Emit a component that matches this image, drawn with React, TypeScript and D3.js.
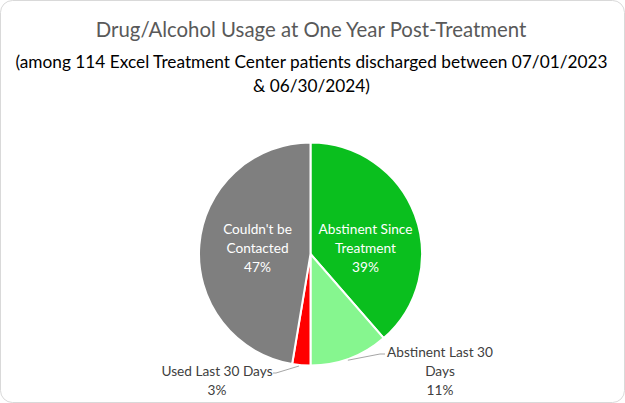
import React from "react";
import * as d3 from "d3";

const categories = ["Abstinent Since Treatment", "Abstinent Last 30 Days", "Used Last 30 Days", "Couldn't be Contacted"];
const counts = [44, 13, 3, 54];
const percentLabels = ["39%", "11%", "3%", "47%"];
const colors = ["#0abf1e", "#86f68f", "#ff0000", "#7f7f7f"];
const titleText = "Drug/Alcohol Usage at One Year Post-Treatment";
const subtitleLines = ["(among 114 Excel Treatment Center patients discharged between 07/01/2023", "& 06/30/2024)"];

const W = 625, H = 403;
const cx = 310.5, cy = 254, R = 111.5;
const FAMILY = "Lato";

function fitSize(text: string, target: number): number {
  if (typeof document === "undefined") return 14;
  const c = document.createElement("canvas").getContext("2d");
  if (!c) return 14;
  c.font = `100px ${FAMILY}`;
  const w = c.measureText(text).width;
  return (100 * target) / w;
}

export default function App() {
  const pie = d3.pie<number>().sort(null).value((d) => d)(counts);
  const arc = d3.arc<d3.PieArcDatum<number>>().innerRadius(0).outerRadius(R);
  const font = "Lato, 'Noto Sans', sans-serif";
  const mid = (p: d3.PieArcDatum<number>) => (p.startAngle + p.endAngle) / 2;
  const pt = (a: number, r: number) => [cx + r * Math.sin(a), cy - r * Math.cos(a)];

  const titleSize = fitSize(titleText, 432);
  const subSize = fitSize(subtitleLines[0], 593);
  const labSize = fitSize("Abstinent Last 30", 106);

  const e1 = pt(mid(pie[1]) + 0.02, R * 1.01);
  const e2 = pt(mid(pie[2]) + 0.02, R * 1.01);

  return (
    <svg width={W} height={H} style={{ position: "absolute", left: 0, top: 0 }}>
      <rect x={0.5} y={0.5} width={W - 1} height={H - 1} rx={12} fill="#fff" stroke="#d9d9d9" />
      <text x={311} y={37} textAnchor="middle" fontFamily={font} fontSize={titleSize} fill="#595959">
        {titleText}
      </text>
      <text x={311.5} y={68} textAnchor="middle" fontFamily={font} fontSize={subSize} fill="#000">
        {subtitleLines[0]}
      </text>
      <text x={311.5} y={92} textAnchor="middle" fontFamily={font} fontSize={subSize} fill="#000">
        {subtitleLines[1]}
      </text>
      <g transform={`translate(${cx},${cy})`}>
        {pie.map((p, i) => (
          <path key={categories[i]} d={arc(p) || ""} fill={colors[i]} stroke="#fff" strokeWidth={2} />
        ))}
      </g>
      <g fontFamily={font} fontSize={labSize} fill="#fff" textAnchor="middle">
        <text x={cx + 55} y={cy - 20}>Abstinent Since</text>
        <text x={cx + 55} y={cy - 1}>Treatment</text>
        <text x={cx + 55} y={cy + 18}>{percentLabels[0]}</text>
        <text x={cx - 53} y={cy - 20}>Couldn't be</text>
        <text x={cx - 53} y={cy - 1}>Contacted</text>
        <text x={cx - 53} y={cy + 18}>{percentLabels[3]}</text>
      </g>
      <polyline points={`${e1[0]},${e1[1]} 380,354 385,354`} fill="none" stroke="#a6a6a6" strokeWidth={1} />
      <polyline points={`${e2[0]},${e2[1]} 276,373 273,373`} fill="none" stroke="#a6a6a6" strokeWidth={1} />
      <g fontFamily={font} fontSize={labSize} fill="#404040" textAnchor="middle">
        <text x={440} y={357}>Abstinent Last 30</text>
        <text x={440} y={376}>Days</text>
        <text x={440} y={395}>{percentLabels[1]}</text>
        <text x={217} y={376}>Used Last 30 Days</text>
        <text x={217} y={395}>{percentLabels[2]}</text>
      </g>
    </svg>
  );
}
